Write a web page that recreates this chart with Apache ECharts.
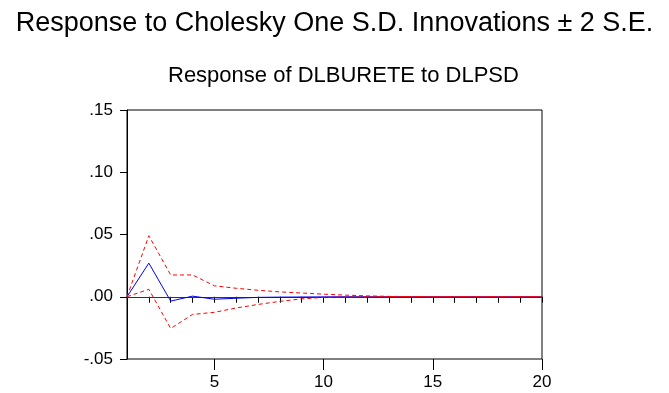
<!DOCTYPE html>
<html>
<head>
<meta charset="utf-8">
<script src="https://cdn.jsdelivr.net/npm/echarts@6/dist/echarts.min.js"></script>
<style>html,body{margin:0;padding:0;background:#fff;}#c{width:669px;height:393px;}</style>
</head>
<body>
<div id="c"></div>
<script>
const periods = [1,2,3,4,5,6,7,8,9,10,11,12,13,14,15,16,17,18,19,20];
const response = [0, 0.027, -0.0035, 0.0005, -0.002, -0.0012, -0.0005, -0.0003, -0.0002, -0.0001, 0, 0, 0, 0, 0, 0, 0, 0, 0, 0];
const upperBand = [0, 0.049, 0.0175, 0.0175, 0.0088, 0.0068, 0.0052, 0.0039, 0.003, 0.0021, 0.0013, 0.0007, 0.0003, 0.0001, 0, 0, 0, 0, 0, 0];
const lowerBand = [0, 0.006, -0.0255, -0.0142, -0.0125, -0.009, -0.0062, -0.0037, -0.0017, -0.0005, -0.0002, -0.0001, 0, 0, 0, 0, 0, 0, 0, 0];
const majorTicks = [5, 10, 15, 20];

const pair = arr => periods.map((p, i) => [p, arr[i]]);
const font = 'Liberation Sans, Arial, sans-serif';

const chart = echarts.init(document.getElementById('c'));
chart.setOption({
  animation: false,
  backgroundColor: '#fff',
  title: [
    { text: 'Response to Cholesky One S.D. Innovations \u00b1 2 S.E.', left: 'center', top: 5,
      textStyle: { fontFamily: font, fontSize: 27, fontWeight: 'normal', color: '#000' } },
    { text: 'Response of DLBURETE to DLPSD', left: 163, top: 60,
      textStyle: { fontFamily: font, fontSize: 22, fontWeight: 'normal', color: '#000' } }
  ],
  grid: { left: 127, right: 127, top: 110, bottom: 34, show: true, borderColor: '#000', borderWidth: 1 },
  xAxis: [
    { type: 'value', min: 1, max: 20, interval: 1,
      axisLine: { lineStyle: { color: '#000', width: 1 } },
      axisTick: { show: true, length: 6, lineStyle: { color: '#000' }, customValues: periods },
      axisLabel: { color: '#000', fontFamily: font, fontSize: 17, margin: 15, customValues: majorTicks },
      splitLine: { show: false } },
    { type: 'value', min: 1, max: 20, position: 'bottom',
      axisLine: { show: false },
      axisTick: { show: true, length: 11, lineStyle: { color: '#000' }, customValues: majorTicks },
      axisLabel: { show: false },
      splitLine: { show: false } }
  ],
  yAxis: {
    type: 'value', min: -0.05, max: 0.15, interval: 0.05,
    axisLine: { show: true, lineStyle: { color: '#000', width: 1 } },
    axisTick: { show: true, length: 7, lineStyle: { color: '#000' } },
    axisLabel: { color: '#000', fontFamily: font, fontSize: 17, margin: 14,
      formatter: v => { const s = (Math.round(v * 100) / 100).toFixed(2); return s.replace('0.', '.'); } },
    splitLine: { show: false }
  },
  series: [
    { type: 'line', data: pair(lowerBand), symbol: 'none', z: 3,
      lineStyle: { color: '#ff0000', width: 1, type: [4, 3] },
      markLine: { silent: true, symbol: 'none', label: { show: false }, z: 1,
        lineStyle: { color: '#333', width: 1, type: 'solid' }, data: [{ yAxis: 0 }] } },
    { type: 'line', data: pair(upperBand), symbol: 'none', z: 3,
      lineStyle: { color: '#ff0000', width: 1, type: [4, 3] } },
    { type: 'line', data: pair(response), symbol: 'none', z: 2,
      lineStyle: { color: '#0000ff', width: 1 } }
  ]
});
</script>
</body>
</html>
